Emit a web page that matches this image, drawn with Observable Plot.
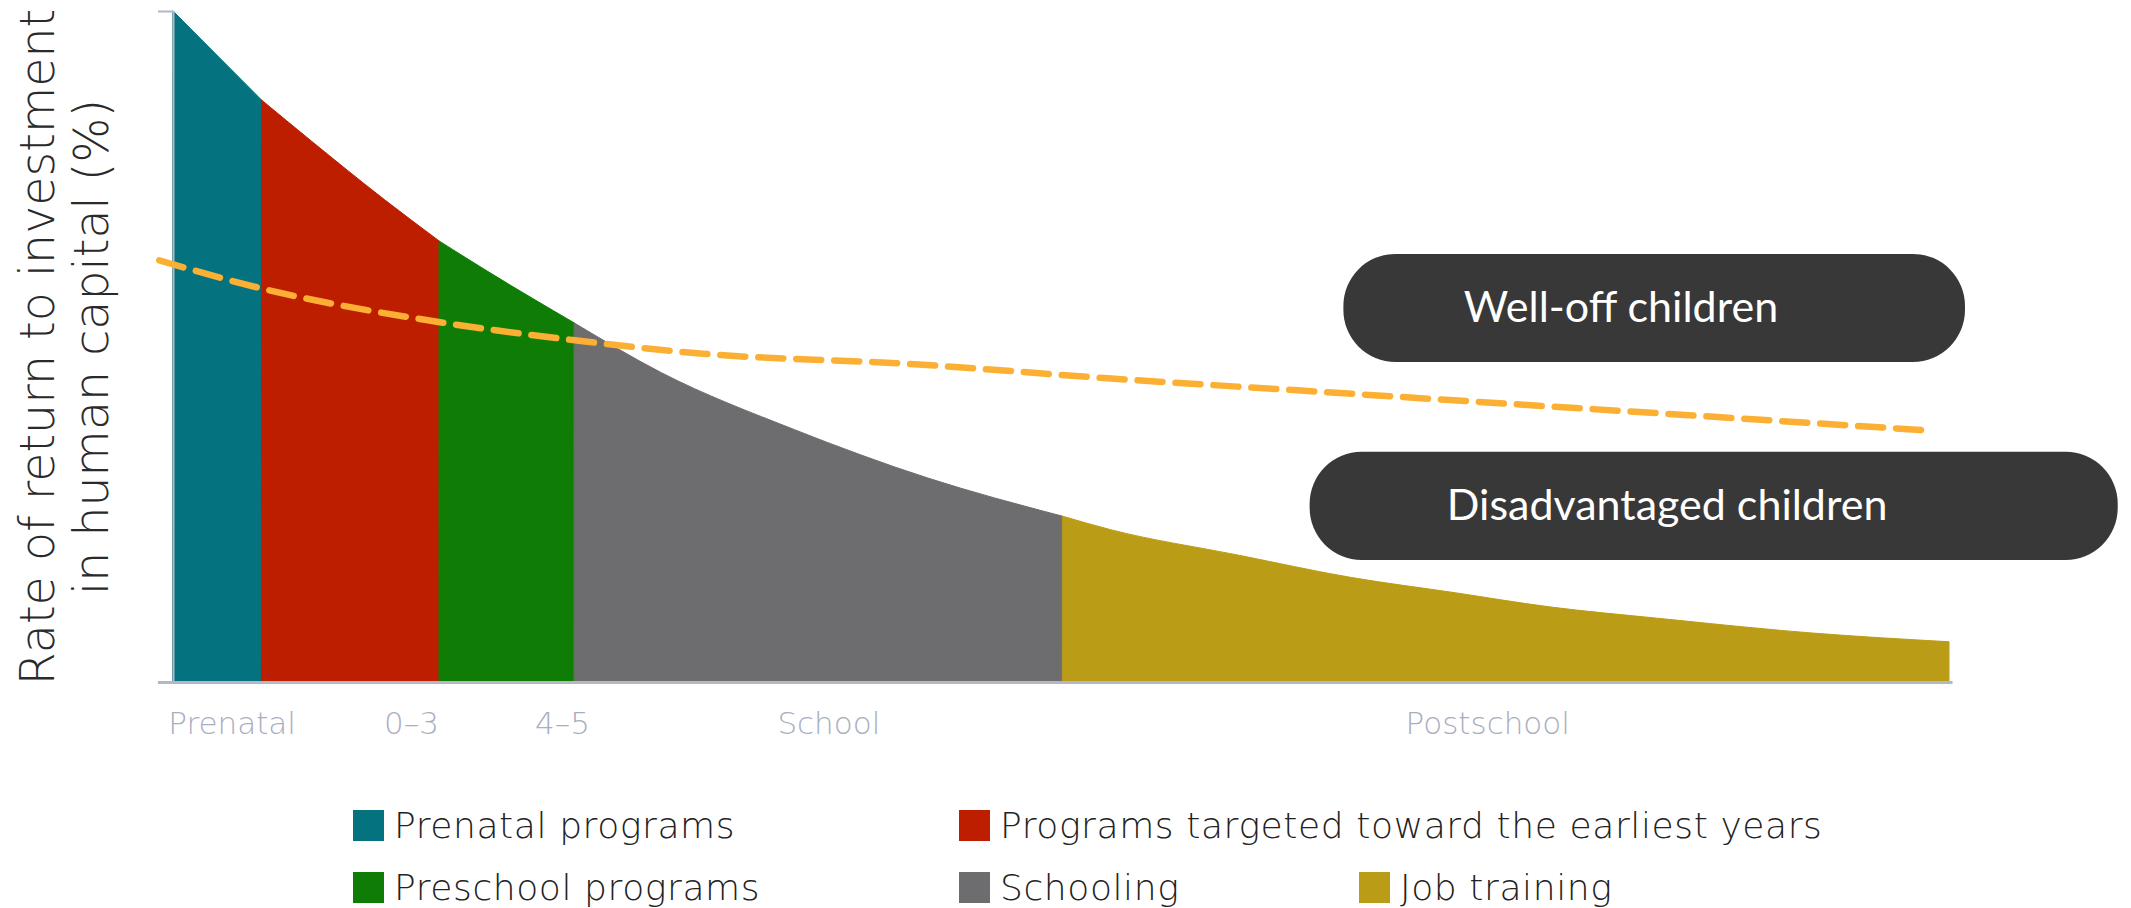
<!DOCTYPE html>
<html>
<head>
<meta charset="utf-8">
<script src="https://cdn.jsdelivr.net/npm/d3@7"></script>
<script src="https://cdn.jsdelivr.net/npm/@observablehq/plot@0.6"></script>
<style>
  html, body { margin: 0; padding: 0; background: #fff; overflow: hidden; }
  #chart svg { display: block; }
  #legend { position: relative; width: 2131px; height: 148px; font-family: "DejaVu Sans", sans-serif; font-weight: 200; }
  .item { position: absolute; display: flex; align-items: center; font-size: 36px; letter-spacing: 0.6px; line-height: 31px; color: #222; white-space: nowrap; }
  .sw { width: 31px; height: 31px; margin-right: 10px; }
</style>
</head>
<body>
<div id="chart"></div>
<div id="legend"></div>
<script>
// ---- data ----
const stageNames = ["Prenatal programs", "Programs targeted toward the earliest years", "Preschool programs", "Schooling", "Job training"];
const stageBounds = [0, 5, 15, 22.6, 50.1, 100];
const curveX = [0, 5, 7.8, 11.9, 15, 17.9, 22.6, 27.5, 35, 42.5, 50.1, 52.8, 60, 66.3, 72.2, 77.5, 83.6, 92.3, 100];
const curveY = [100, 86.7, 80.6, 71.9, 65.7, 60.9, 53.5, 46.1, 37.6, 30.4, 24.7, 22.7, 18.9, 15.6, 13.3, 11.2, 9.5, 7.3, 6.0];
const wellOffX = [-0.8, 5, 15, 22.6, 29.8, 41.3, 52.8, 63.5, 98.6];
const wellOffY = [62.9, 58.7, 53.7, 51.0, 49.0, 47.5, 45.3, 43.5, 37.6];
const tickLabels = ["Prenatal", "0–3", "4–5", "School", "Postschool"];
const tickX = [3.3, 13.4, 21.9, 36.9, 74.0];
const badgeLabels = ["Well-off children", "Disadvantaged children"];
const badgeX1 = [65.9, 64.0];
const badgeX2 = [100.9, 109.5];
const badgeY1 = [47.7, 18.2];
const badgeY2 = [63.8, 34.3];
const badgeTextX = [81.5, 84.1];
const yTitle = "Rate of return to investment\nin human capital (%)";

// ---- styles ----
const stageColors = ["#04737f", "#be1e00", "#0f7d05", "#6d6d6f", "#bb9c16"];
const axisColor = "#b3b7c6";

// ---- build tables ----
const areaRows = [];
stageNames.forEach((s, i) => {
  curveX.forEach((x, j) => {
    if (x >= stageBounds[i] && x <= stageBounds[i + 1]) areaRows.push({x, y: curveY[j], stage: s});
  });
});
const wellOff = wellOffX.map((x, i) => ({x, y: wellOffY[i]}));
const ticks = tickLabels.map((t, i) => ({x: tickX[i], label: t}));
const badges = badgeLabels.map((t, i) => ({label: t, x1: badgeX1[i], x2: badgeX2[i], y1: badgeY1[i], y2: badgeY2[i], tx: badgeTextX[i], ty: (badgeY1[i] + badgeY2[i]) / 2}));

const chart = Plot.plot({
  width: 2131,
  height: 760,
  marginLeft: 173,
  marginRight: 182,
  marginTop: 11,
  marginBottom: 78,
  style: {fontFamily: "'DejaVu Sans', sans-serif", background: "white", overflow: "visible"},
  x: {domain: [0, 100], axis: null},
  y: {domain: [0, 100], axis: null},
  color: {domain: stageNames, range: stageColors},
  marks: [
    Plot.areaY(areaRows, {x: "x", y1: 0, y2: "y", z: "stage", fill: "stage", stroke: "stage", strokeWidth: 1, curve: "monotone-x"}),
    Plot.ruleX([0], {y1: 0, y2: 100, stroke: axisColor, strokeWidth: 2}),
    Plot.ruleY([0], {x1: -0.85, x2: 100.2, stroke: axisColor, strokeWidth: 3}),
    Plot.axisY({ticks: [100], tickFormat: () => "", tickSize: 15, stroke: axisColor, strokeWidth: 2}),
    Plot.text(ticks, {x: "x", y: () => 0, text: "label", dy: 42, fontSize: 31, fill: "#a9aebf", fontWeight: 200}),
    Plot.text([yTitle], {frameAnchor: "left", textAnchor: "middle", rotate: -90, dx: -110, fontSize: 47.5, lineHeight: 1.14, fill: "#2a2a2a", fontWeight: 300, lineAnchor: "middle"}),
    Plot.line(wellOff, {x: "x", y: "y", stroke: "#fbb034", strokeWidth: 6.5, strokeDasharray: "25,13", strokeLinecap: "round", curve: "monotone-x"}),
    Plot.rect(badges, {x1: "x1", x2: "x2", y1: "y1", y2: "y2", rx: 52, fill: "#383838", ariaLabel: "badge"}),
    Plot.text(badges, {x: "tx", y: "ty", text: "label", fill: "white", fontSize: 43, fontFamily: "Lato, sans-serif"})
  ]
});
document.getElementById("chart").appendChild(chart);
d3.select(chart).selectAll("g[aria-label=badge] rect").style("filter", "drop-shadow(3px 14px 10px rgba(0,0,0,0.4))");

// ---- legend ----
const legendPos = [[353, 50], [959, 50], [353, 112], [959, 112], [1359, 112]];
const legend = document.getElementById("legend");
stageNames.forEach((s, i) => {
  const it = document.createElement("div");
  it.className = "item";
  it.style.left = legendPos[i][0] + "px";
  it.style.top = legendPos[i][1] + "px";
  it.innerHTML = `<div class="sw" style="background:${stageColors[i]}"></div><span>${s}</span>`;
  legend.appendChild(it);
});
</script>
</body>
</html>
